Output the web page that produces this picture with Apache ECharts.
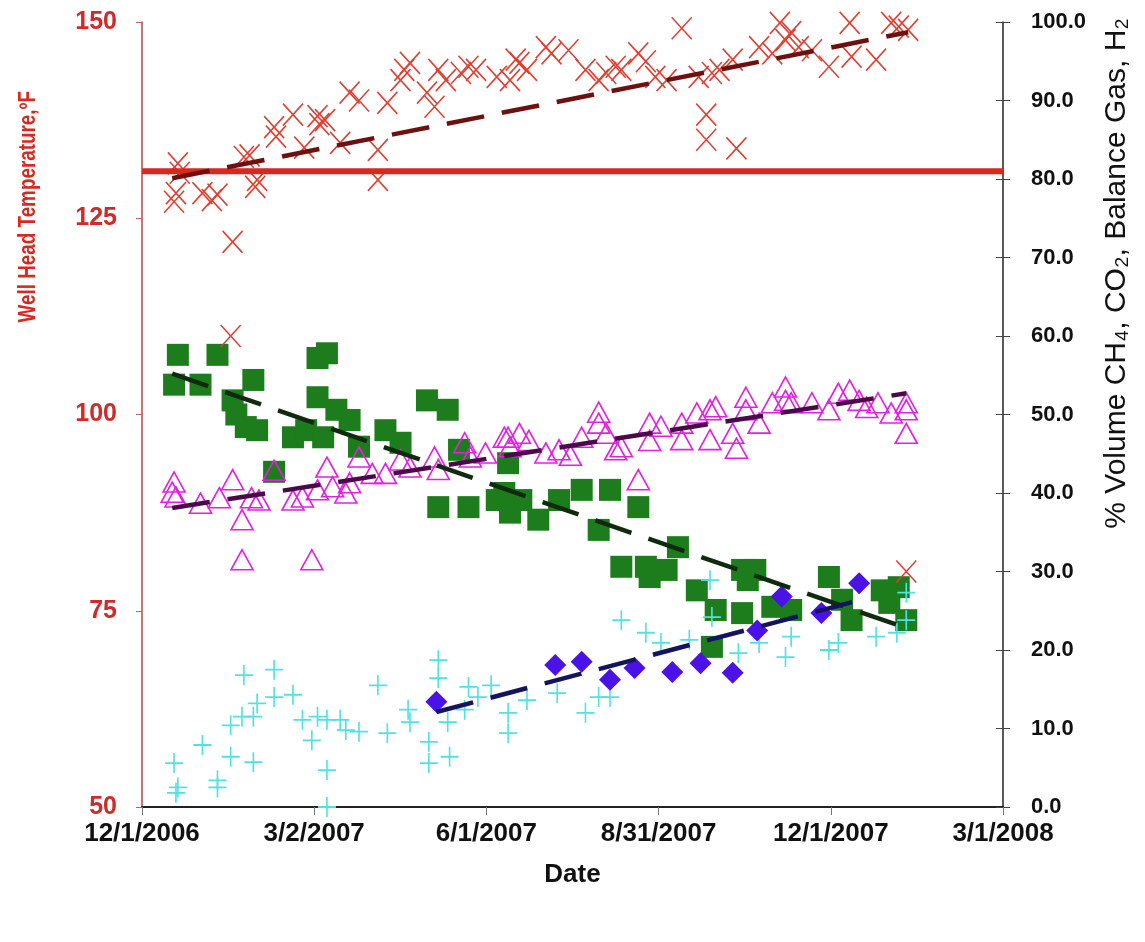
<!DOCTYPE html>
<html><head><meta charset="utf-8">
<script src="https://cdn.jsdelivr.net/npm/echarts@6/dist/echarts.min.js"></script>
<style>html,body{margin:0;padding:0;background:#fff}#c{width:1145px;height:942px}</style>
</head><body><div id="c"></div>
<script>
// ---- data ----
const xTickLabels = ['12/1/2006','3/2/2007','6/1/2007','8/31/2007','12/1/2007','3/1/2008'];
const leftTicks = [50, 75, 100, 125, 150];
const rightTicks = [0,10,20,30,40,50,60,70,80,90,100];

// Well head temperature (°F, left axis) - red X
const tempPoints = [
 ['2006-12-20',132.0],['2006-12-19',128.2],['2006-12-18',127.1],['2006-12-21',130.8],['2007-01-02',128.2],
 ['2007-01-07',127.3],['2007-01-10',128.0],['2007-01-18',122.0],['2007-01-17',110.0],['2007-01-24',132.8],
 ['2007-01-27',133.0],['2007-01-31',129.9],['2007-01-30',129.0],['2007-02-09',136.6],['2007-02-10',135.4],
 ['2007-02-19',138.2],['2007-02-25',134.0],['2007-03-04',138.0],['2007-03-05',137.0],['2007-03-08',137.5],
 ['2007-03-16',134.6],['2007-03-21',141.0],['2007-03-26',140.0],['2007-04-05',133.7],['2007-04-05',129.9],
 ['2007-04-10',139.7],['2007-04-17',142.6],['2007-04-19',143.9],['2007-04-22',144.8],['2007-05-01',141.0],
 ['2007-05-05',139.2],['2007-05-07',143.9],['2007-05-11',142.6],['2007-05-19',143.5],['2007-05-23',144.3],
 ['2007-05-27',143.9],['2007-06-07',143.0],['2007-06-14',142.6],['2007-06-17',145.2],['2007-06-19',144.8],
 ['2007-06-23',143.9],['2007-07-03',146.8],['2007-07-06',146.0],['2007-07-15',146.4],['2007-07-24',143.9],
 ['2007-07-31',142.6],['2007-08-04',143.5],['2007-08-09',144.3],['2007-08-12',143.9],['2007-08-21',146.0],
 ['2007-08-25',145.0],['2007-08-30',143.0],['2007-09-05',142.6],['2007-09-13',149.2],['2007-09-22',143.0],
 ['2007-09-29',143.5],['2007-10-03',143.9],['2007-10-10',145.2],['2007-09-26',138.2],['2007-09-26',135.0],
 ['2007-10-12',133.9],['2007-10-24',146.8],['2007-10-31',146.0],['2007-11-04',149.9],['2007-11-07',147.7],
 ['2007-11-10',148.7],['2007-11-14',146.8],['2007-11-21',146.4],['2007-11-30',144.3],['2007-12-11',149.9],
 ['2007-12-12',145.6],['2007-12-25',145.2],['2008-01-02',149.9],['2008-01-06',149.4],['2008-01-11',149.0],
 ['2008-01-10',80.0]
];
// % volume, right axis - magenta open triangles
const trianglePoints = [
 ['2006-12-18',41.4],['2006-12-17',40.1],['2006-12-19',39.5],['2007-01-01',38.7],['2007-01-11',39.4],
 ['2007-01-18',41.7],['2007-01-23',36.6],['2007-01-23',31.5],['2007-01-28',39.4],['2007-02-01',39.1],
 ['2007-02-09',42.9],['2007-02-19',39.1],['2007-02-24',39.5],['2007-03-01',31.5],['2007-03-04',40.4],
 ['2007-03-09',43.3],['2007-03-12',40.8],['2007-03-19',40.0],['2007-03-21',41.3],['2007-03-26',44.6],
 ['2007-04-02',42.5],['2007-04-09',42.5],['2007-04-17',44.2],['2007-04-22',43.3],['2007-05-05',44.6],
 ['2007-05-07',43.0],['2007-05-21',46.4],['2007-05-24',44.6],['2007-06-01',45.1],['2007-06-11',47.1],
 ['2007-06-14',45.9],['2007-06-13',47.1],['2007-06-19',47.6],['2007-06-24',46.7],['2007-07-03',45.1],
 ['2007-07-10',45.5],['2007-07-16',44.8],['2007-07-22',47.1],['2007-07-31',50.3],['2007-07-31',48.9],
 ['2007-08-04',47.6],['2007-08-09',45.5],['2007-08-12',45.9],['2007-08-21',41.7],['2007-08-27',48.9],
 ['2007-08-27',46.7],['2007-09-02',48.5],['2007-09-13',48.9],['2007-09-13',46.8],['2007-09-21',50.2],
 ['2007-09-28',50.6],['2007-09-28',46.8],['2007-10-01',51.0],['2007-10-10',47.6],['2007-10-12',45.7],
 ['2007-10-17',52.2],['2007-10-17',50.6],['2007-10-24',48.9],['2007-10-31',51.5],['2007-11-07',53.5],
 ['2007-11-07',51.8],['2007-11-10',51.5],['2007-11-21',51.5],['2007-11-30',50.6],['2007-12-05',52.7],
 ['2007-12-11',53.1],['2007-12-16',51.8],['2007-12-20',50.9],['2007-12-26',51.5],['2008-01-02',50.2],
 ['2008-01-10',51.5],['2008-01-10',50.6],['2008-01-10',47.6]
];
// % volume, right axis - green squares
const squarePoints = [
 ['2006-12-20',57.6],['2006-12-18',53.8],['2007-01-01',53.8],['2007-01-10',57.6],['2007-01-29',54.4],
 ['2007-01-18',51.8],['2007-01-20',50.0],['2007-01-25',48.4],['2007-01-31',48.0],['2007-02-09',42.7],
 ['2007-03-04',57.2],['2007-03-09',57.8],['2007-03-04',52.2],['2007-02-19',47.1],['2007-02-26',48.0],
 ['2007-03-07',47.1],['2007-03-14',50.6],['2007-03-21',49.3],['2007-03-26',45.9],['2007-04-09',48.0],
 ['2007-04-17',46.4],['2007-05-01',51.8],['2007-05-12',50.6],['2007-05-07',38.2],['2007-05-23',38.2],
 ['2007-06-07',39.1],['2007-06-14',37.5],['2007-05-18',45.5],['2007-06-13',43.8],['2007-06-11',40.0],
 ['2007-06-20',39.1],['2007-06-29',36.6],['2007-07-10',39.1],['2007-07-22',40.4],['2007-07-31',35.3],
 ['2007-08-06',40.4],['2007-08-21',38.2],['2007-08-12',30.6],['2007-08-25',30.6],['2007-09-11',33.1],
 ['2007-09-05',30.2],['2007-08-27',29.3],['2007-09-21',27.6],['2007-09-29',20.4],['2007-10-01',25.1],
 ['2007-10-15',30.2],['2007-10-18',28.9],['2007-10-22',30.2],['2007-10-15',24.7],['2007-10-31',25.5],
 ['2007-11-10',25.1],['2007-11-30',29.3],['2007-12-07',26.4],['2007-12-12',23.8],['2007-12-28',27.6],
 ['2008-01-06',28.0],['2008-01-10',23.8],['2008-01-01',26.0]
];
// % volume, right axis - cyan plus
const plusPoints = [
 ['2006-12-18',5.6],['2006-12-20',2.5],['2006-12-19',1.8],['2007-01-02',7.9],['2007-01-10',3.4],
 ['2007-01-10',2.5],['2007-01-17',10.4],['2007-01-17',6.4],['2007-01-24',16.8],['2007-01-23',11.5],
 ['2007-01-29',11.5],['2007-01-29',5.7],['2007-01-31',13.2],['2007-02-09',17.5],['2007-02-09',14.0],
 ['2007-02-19',14.3],['2007-02-24',11.1],['2007-03-01',8.5],['2007-03-04',11.5],['2007-03-09',11.1],
 ['2007-03-09',4.7],['2007-03-09',0.0],['2007-03-16',11.1],['2007-03-19',9.8],['2007-03-26',9.6],
 ['2007-04-05',15.5],['2007-04-10',9.4],['2007-04-21',12.4],['2007-04-22',10.8],['2007-05-02',8.3],
 ['2007-05-02',5.6],['2007-05-07',18.7],['2007-05-07',16.4],['2007-05-12',10.8],['2007-05-13',6.4],
 ['2007-05-23',15.3],['2007-05-21',12.4],['2007-05-28',14.0],['2007-06-04',15.5],['2007-06-13',12.0],
 ['2007-06-13',9.4],['2007-06-23',13.6],['2007-07-09',14.5],['2007-07-24',12.0],['2007-07-31',14.0],
 ['2007-08-06',14.0],['2007-08-12',23.8],['2007-08-25',22.2],['2007-09-02',20.9],['2007-09-17',21.3],
 ['2007-09-28',28.9],['2007-09-29',24.2],['2007-10-13',19.6],['2007-10-24',20.9],['2007-11-07',19.1],
 ['2007-11-10',21.7],['2007-11-30',20.0],['2007-12-05',20.9],['2007-12-25',21.7],['2008-01-05',22.2],
 ['2008-01-10',27.3],['2008-01-10',23.8]
];
// % volume, right axis - blue diamonds
const diamondPoints = [
 ['2007-05-06',13.4],['2007-07-08',18.1],['2007-07-22',18.5],['2007-08-06',16.2],['2007-08-19',17.7],
 ['2007-09-08',17.2],['2007-09-23',18.3],['2007-10-10',17.1],['2007-10-23',22.5],['2007-11-05',26.8],
 ['2007-11-26',24.7],['2007-12-16',28.5]
];
// trendline end points
const tempTrend = [['2006-12-17',130.1],['2008-01-11',148.7]];
const triangleTrend = [['2006-12-17',38.1],['2008-01-10',52.7]];
const squareTrend = [['2006-12-17',55.2],['2008-01-10',22.8]];
const diamondTrend = [['2007-05-06',12.1],['2007-12-17',26.4]];
const thresholdTemp = 131;

// ---- helpers ----
const START = Date.UTC(2006, 11, 1);
const DAY_STEP = 91.25;
function toDay(s){ const p = s.split('-').map(Number); return (Date.UTC(p[0], p[1]-1, p[2]) - START) / 86400000; }
const mk = pts => pts.map(p => [toDay(p[0]), p[1]]);
const X_MAX = DAY_STEP * (xTickLabels.length - 1);

const FONT = "'Liberation Sans', Arial, sans-serif";
const dash = [38, 18];
const clear = 'rgba(255,255,255,0)';

const chart = echarts.init(document.getElementById('c'), null, {renderer: 'canvas'});
chart.setOption({
  animation: false,
  backgroundColor: '#ffffff',
  grid: {left: 142, right: 142, top: 22, bottom: 135, containLabel: false},
  xAxis: {
    type: 'value', min: 0, max: X_MAX, interval: DAY_STEP,
    axisLine: {lineStyle: {color: '#222', width: 2}},
    axisTick: {show: true, length: 8, lineStyle: {color: '#777'}},
    splitLine: {show: false},
    axisLabel: {margin: 14, fontFamily: FONT, fontWeight: 'bold', fontSize: 26, color: '#111',
      formatter: v => xTickLabels[Math.round(v / DAY_STEP)] || ''},
    name: 'Date', nameLocation: 'middle', nameGap: 55,
    nameTextStyle: {fontFamily: FONT, fontWeight: 'bold', fontSize: 26, color: '#111'}
  },
  yAxis: [
    {type: 'value', position: 'left', min: leftTicks[0], max: leftTicks[leftTicks.length-1], interval: 25,
     axisLine: {show: true, lineStyle: {color: '#b24a4a', width: 1.5}},
     axisTick: {show: true, length: 6, lineStyle: {color: '#c06060'}},
     splitLine: {show: false},
     axisLabel: {margin: 25, fontFamily: FONT, fontWeight: 'bold', fontSize: 25, color: '#d02a2a'}},
    {type: 'value', position: 'right', min: rightTicks[0], max: rightTicks[rightTicks.length-1], interval: 10,
     axisLine: {show: true, lineStyle: {color: '#222', width: 1.5}},
     axisTick: {show: true, length: 7, lineStyle: {color: '#444'}},
     splitLine: {show: false},
     axisLabel: {margin: 28, fontFamily: FONT, fontWeight: 'bold', fontSize: 22, color: '#111',
       formatter: v => v.toFixed(1)}},
    {type: 'value', position: 'right', min: 0, max: 100, interval: 10,
     axisLine: {show: false}, axisTick: {show: true, inside: true, length: 7, lineStyle: {color: '#444'}},
     axisLabel: {show: false}, splitLine: {show: false}}
  ],
  graphic: [
    {type: 'text', left: 17, top: 91, rotation: Math.PI/2, scaleX: 0.82, silent: true,
     style: {text: 'Well Head Temperature,ºF', fontFamily: FONT, fontWeight: 'bold', fontSize: 23, fill: '#d42a22'}},
    {type: 'text', left: 1102, top: 18, rotation: Math.PI/2, silent: true,
     style: {text: '% Volume CH₄, CO₂, Balance Gas, H₂', fontFamily: FONT, fontSize: 30, fill: '#111'}}
  ],
  series: [
    {name: 'Squares', type: 'scatter', yAxisIndex: 1, z: 2, silent: true, symbol: 'rect', symbolSize: 22,
     itemStyle: {color: '#1d7d1d', opacity: 1}, data: mk(squarePoints)},
    {name: 'Triangles', type: 'scatter', yAxisIndex: 1, z: 3, silent: true, symbol: 'triangle', symbolSize: [22, 20],
     itemStyle: {color: clear, borderColor: '#e31fe3', borderWidth: 1.6, opacity: 1}, data: mk(trianglePoints)},
    {name: 'Plus', type: 'scatter', yAxisIndex: 1, z: 4, silent: true, symbol: 'path://M10,0L10,20M0,10L20,10', symbolSize: [18, 20],
     itemStyle: {color: clear, borderColor: '#4fe2e2', borderWidth: 1.7, opacity: 1}, data: mk(plusPoints)},
    {name: 'Diamonds', type: 'scatter', yAxisIndex: 1, z: 5, silent: true, symbol: 'diamond', symbolSize: 22,
     itemStyle: {color: '#4a12e6', opacity: 1}, data: mk(diamondPoints)},
    {name: 'Temperature', type: 'scatter', yAxisIndex: 0, z: 6, silent: true, symbol: 'path://M0,0L20,20M20,0L0,20', symbolSize: [20, 22],
     itemStyle: {color: clear, borderColor: '#e03e30', borderWidth: 1.6, opacity: 1}, data: mk(tempPoints)},
    {name: 'Threshold', type: 'line', yAxisIndex: 0, z: 7, silent: true, symbol: 'none',
     lineStyle: {color: '#d9281c', width: 6}, data: [[0, thresholdTemp], [X_MAX, thresholdTemp]]},
    {name: 'Temp trend', type: 'line', yAxisIndex: 0, z: 8, silent: true, symbol: 'none',
     lineStyle: {color: '#6e1010', width: 4.5, type: dash}, data: mk(tempTrend)},
    {name: 'Triangle trend', type: 'line', yAxisIndex: 1, z: 8, silent: true, symbol: 'none',
     lineStyle: {color: '#4a0a4a', width: 4.5, type: dash}, data: mk(triangleTrend)},
    {name: 'Square trend', type: 'line', yAxisIndex: 1, z: 8, silent: true, symbol: 'none',
     lineStyle: {color: '#0f2a0f', width: 4.5, type: dash}, data: mk(squareTrend)},
    {name: 'Diamond trend', type: 'line', yAxisIndex: 1, z: 8, silent: true, symbol: 'none',
     lineStyle: {color: '#14145e', width: 4.5, type: dash}, data: mk(diamondTrend)}
  ]
});
</script>
</body></html>
